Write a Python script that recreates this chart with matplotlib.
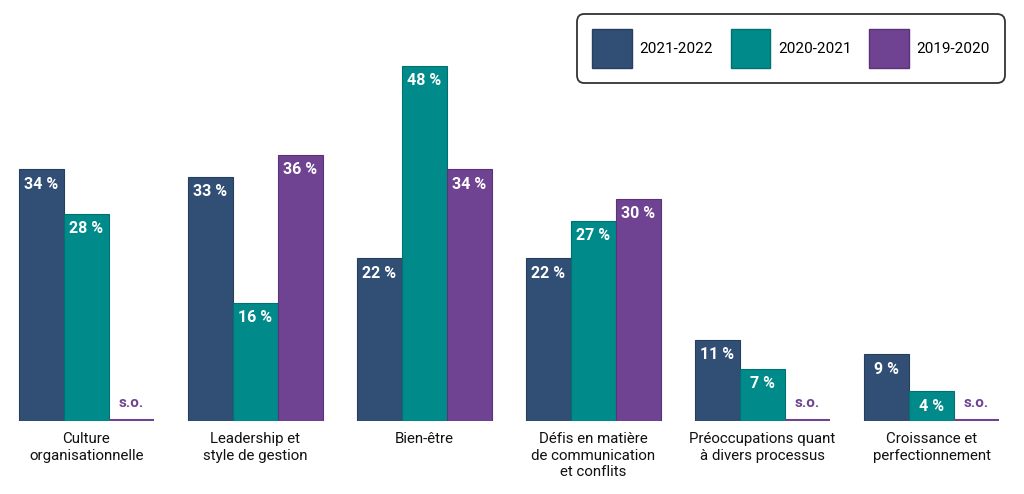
import matplotlib
matplotlib.use("Agg")
import matplotlib.pyplot as plt
import numpy as np
from matplotlib.patches import Patch

plt.rcParams['font.family'] = ['Roboto', 'DejaVu Sans']

categories = ["Culture\norganisationnelle", "Leadership et\nstyle de gestion", "Bien-être",
              "Défis en matière\nde communication\net conflits", "Préoccupations quant\nà divers processus",
              "Croissance et\nperfectionnement"]
series_names = ["2021-2022", "2020-2021", "2019-2020"]
v2122 = [34, 33, 22, 22, 11, 9]
v2021 = [28, 16, 48, 27, 7, 4]
v1920 = [None, 36, 34, 30, None, None]
colors = ["#314F74", "#008B8A", "#6F4392"]
edges = ["#263F5E", "#007070", "#5A3279"]

W, H = 1024, 494
fig = plt.figure(figsize=(W/100, H/100), dpi=100)
base_px = 421
ax = fig.add_axes([0, (H-base_px)/H, 1, base_px/H])
px_per_unit = 7.4
ax.set_ylim(0, base_px/px_per_unit)
gw = 169.0
c0 = 86.5
ax.set_xlim(-c0/gw, (W-c0)/gw)
ax.axis('off')

bw = 45/gw
x = np.arange(len(categories))
for i, (vals, col, ec) in enumerate(zip([v2122, v2021, v1920], colors, edges)):
    xs = x + (i-1)*bw
    for xi, v in zip(xs, vals):
        if v is None:
            ax.plot([xi-bw/2, xi+bw/2], [0.1, 0.1], color=col, lw=1.5, solid_capstyle='butt')
            ax.text(xi, 2.4, "s.o.", ha='center', va='center', color=col,
                    fontsize=11, fontweight='bold')
        else:
            ax.bar(xi, v, width=bw, color=col, edgecolor=ec, linewidth=0.8)
            ax.text(xi, v - 2.0, f"{v} %", ha='center', va='center', color='white',
                    fontsize=11.5, fontweight='bold')

for xi, lab in zip(x, categories):
    ax.text(xi, -1.5, lab, ha='center', va='top', fontsize=10.8, color='#111111',
            linespacing=1.22, clip_on=False)

handles = [Patch(facecolor=c, edgecolor=e) for c, e in zip(colors, edges)]
leg = fig.legend(handles, series_names, ncol=3, loc='upper right',
                 bbox_to_anchor=(1005/W, 1-14/H), borderaxespad=0, fontsize=11, frameon=True,
                 handlelength=2.6, handleheight=3.5, handletextpad=0.5, columnspacing=1.15,
                 borderpad=1.0, fancybox=True, edgecolor='black')
leg.get_frame().set_linewidth(1.3)
leg.get_frame().set_boxstyle('round,pad=0,rounding_size=0.5')

fig.savefig("out.png", dpi=100)
